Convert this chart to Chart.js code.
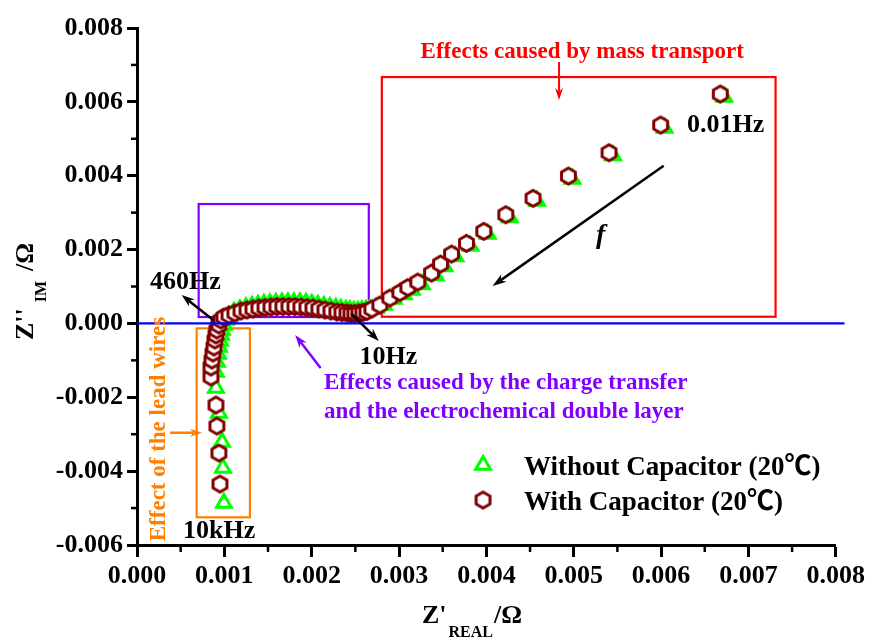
<!DOCTYPE html>
<html>
<head>
<meta charset="utf-8">
<script src="https://cdn.jsdelivr.net/npm/chart.js@4.4.1/dist/chart.umd.min.js"></script>
<style>
html,body{margin:0;padding:0;background:#fff;}
canvas{display:block;}
</style>
</head>
<body>
<canvas id="c" width="869" height="641"></canvas>
<script>
// ---- data (Z' real, Z'' imaginary, in Ohm) ----
const seriesNames = ['Without Capacitor (20\u2103)', 'With Capacitor (20\u2103)'];

const withoutCapX = [0.000995,0.000984,0.000973,0.000938,0.000904,0.000904,0.000915,0.000927,0.000938,0.000950,0.000961,0.000973,0.000995,0.001018,0.001053,
0.001110,0.001178,0.001247,0.001316,0.001384,0.001453,0.001522,0.001590,0.001659,0.001728,0.001796,0.001865,0.001934,0.002002,0.002071,0.002140,0.002208,0.002277,0.002334,0.002391,0.002437,0.002483,0.002529,0.002574,0.002620,0.002666,
0.002735,0.002826,0.002941,0.003055,0.003146,0.003261,0.003418,0.003521,0.003646,0.003818,0.004016,0.004268,0.004580,0.004985,0.005450,0.006041,0.006724];
const withoutCapY = [-0.004863,-0.003916,-0.003211,-0.002426,-0.001749,-0.001316,-0.001045,-0.000829,-0.000639,-0.000477,-0.000314,-0.000179,-0.000043,0.000092,0.000200,
0.000309,0.000376,0.000431,0.000471,0.000498,0.000525,0.000539,0.000552,0.000566,0.000566,0.000566,0.000566,0.000552,0.000525,0.000498,0.000471,0.000444,0.000417,0.000390,0.000363,0.000349,0.000336,0.000336,0.000349,0.000363,0.000390,
0.000417,0.000498,0.000661,0.000783,0.000904,0.001053,0.001297,0.001541,0.001812,0.002096,0.002421,0.002868,0.003314,0.003910,0.004546,0.005291,0.006131];

const withCapX = [0.000950,0.000938,0.000915,0.000904,0.000847,0.000847,0.000858,0.000870,0.000881,0.000892,0.000904,0.000915,0.000938,0.000961,0.000995,
0.001053,0.001121,0.001190,0.001259,0.001327,0.001396,0.001465,0.001533,0.001602,0.001670,0.001739,0.001808,0.001876,0.001945,0.002014,0.002082,0.002151,0.002220,0.002288,0.002346,0.002403,0.002449,0.002494,0.002540,0.002586,0.002632,
0.002689,0.002780,0.002895,0.003009,0.003101,0.003215,0.003372,0.003475,0.003601,0.003772,0.003970,0.004222,0.004534,0.004939,0.005404,0.005995,0.006678];
const withCapY = [-0.004349,-0.003509,-0.002778,-0.002210,-0.001451,-0.001181,-0.000991,-0.000802,-0.000639,-0.000450,-0.000314,-0.000179,-0.000043,0.000092,0.000173,
0.000227,0.000282,0.000336,0.000363,0.000390,0.000417,0.000431,0.000444,0.000458,0.000458,0.000458,0.000458,0.000444,0.000431,0.000417,0.000390,0.000363,0.000336,0.000309,0.000295,0.000282,0.000268,0.000268,0.000282,0.000295,0.000322,
0.000390,0.000498,0.000688,0.000837,0.000972,0.001121,0.001365,0.001608,0.001879,0.002169,0.002494,0.002943,0.003388,0.003991,0.004622,0.005372,0.006212];

// ---- tick labels ----
const xTicks = [0.000,0.001,0.002,0.003,0.004,0.005,0.006,0.007,0.008];
const yTicks = [-0.006,-0.004,-0.002,0.000,0.002,0.004,0.006,0.008];
const xMinorTicks = [0.0005,0.0015,0.0025,0.0035,0.0045,0.0055,0.0065,0.0075];
const yMinorTicks = [-0.005,-0.003,-0.001,0.001,0.003,0.005,0.007];

const SERIF = '"Liberation Serif", "Times New Roman", "Noto Sans CJK SC", serif';

// hexagon marker
function makeHex(){
  const c = document.createElement('canvas');
  c.width = 21; c.height = 23;
  const g = c.getContext('2d');
  const cx = 10.5, cy = 11.5, r = 8.0;
  g.beginPath();
  for(let i=0;i<6;i++){
    const a = -Math.PI/2 + i*Math.PI/3;
    const px = cx + r*Math.cos(a), py = cy + r*Math.sin(a);
    if(i===0) g.moveTo(px,py); else g.lineTo(px,py);
  }
  g.closePath();
  g.fillStyle = '#fff'; g.fill();
  g.lineWidth = 3.0; g.strokeStyle = '#800000'; g.stroke();
  return c;
}
const hexImg = makeHex();

function toPts(xs, ys){ return xs.map((x,i)=>({x:x, y:ys[i]})); }

function arrow(ctx, x1,y1,x2,y2,color,lw,hl,hw){
  const a = Math.atan2(y2-y1, x2-x1);
  const c = Math.cos(a), s = Math.sin(a);
  ctx.save();
  ctx.strokeStyle = color; ctx.fillStyle = color; ctx.lineWidth = lw; ctx.lineCap='butt';
  ctx.beginPath(); ctx.moveTo(x1,y1); ctx.lineTo(x2 - hl*0.7*c, y2 - hl*0.7*s); ctx.stroke();
  ctx.beginPath();
  ctx.moveTo(x2,y2);
  ctx.lineTo(x2 - hl*c + hw/2*s, y2 - hl*s - hw/2*c);
  ctx.lineTo(x2 - hl*0.7*c, y2 - hl*0.7*s);
  ctx.lineTo(x2 - hl*c - hw/2*s, y2 - hl*s + hw/2*c);
  ctx.closePath(); ctx.fill();
  ctx.restore();
}

const annot = {
  id: 'annot',
  beforeDatasetsDraw(chart){
    const ctx = chart.ctx, X = chart.scales.x, Y = chart.scales.y;
    const rect = (x1,y1,x2,y2,col,lw)=>{
      ctx.save(); ctx.strokeStyle = col; ctx.lineWidth = lw;
      const a = X.getPixelForValue(x1), b = Y.getPixelForValue(y1), c = X.getPixelForValue(x2), d = Y.getPixelForValue(y2);
      ctx.strokeRect(a, b, c-a, d-b); ctx.restore();
    };
    rect(0.002803, 0.006672, 0.007311, 0.000181, '#ff0000', 2.2);
    rect(0.000706, 0.003233, 0.002654, 0.000173, '#8000ff', 2.2);
    rect(0.000683, -0.000133, 0.001293, -0.005250, '#ff8000', 2.2);
  },
  afterDatasetsDraw(chart){
    const ctx = chart.ctx, X = chart.scales.x, Y = chart.scales.y;
    const px = v => X.getPixelForValue(v), py = v => Y.getPixelForValue(v);
    const area = chart.chartArea;

    // zero line
    ctx.save();
    ctx.strokeStyle = '#0000ff'; ctx.lineWidth = 2.2;
    ctx.beginPath(); ctx.moveTo(area.left, py(0)); ctx.lineTo(px(0.0081), py(0)); ctx.stroke();
    ctx.restore();

    // minor ticks
    ctx.save();
    ctx.strokeStyle = '#000'; ctx.lineWidth = 2.5;
    xMinorTicks.forEach(v=>{ const x = px(v); ctx.beginPath(); ctx.moveTo(x, area.bottom); ctx.lineTo(x, area.bottom+7); ctx.stroke(); });
    yMinorTicks.forEach(v=>{ const y = py(v); ctx.beginPath(); ctx.moveTo(area.left, y); ctx.lineTo(area.left-6, y); ctx.stroke(); });
    ctx.restore();

    // arrows
    arrow(ctx, px(0.004832), py(0.007078), px(0.004832), py(0.006049), '#ff0000', 2, 12, 8);
    arrow(ctx, px(0.00603), py(0.00427), px(0.00407), py(0.001013), '#000', 2.5, 14, 9);
    arrow(ctx, px(0.000873), py(0.000092), px(0.000511), py(0.000769), '#000', 2.5, 13, 9);
    arrow(ctx, px(0.00246), py(0.000255), px(0.002769), py(-0.000477), '#000', 2.5, 13, 9);
    arrow(ctx, px(0.002102), py(-0.001208), px(0.001811), py(-0.000314), '#8000ff', 2.5, 13, 9);
    arrow(ctx, px(0.000378), py(-0.00296), px(0.000744), py(-0.00296), '#ff8000', 2.5, 12, 8);

    // texts
    ctx.save();
    ctx.textBaseline = 'alphabetic';
    ctx.fillStyle = '#ff0000'; ctx.font = 'bold 23px ' + SERIF; ctx.textAlign = 'center';
    ctx.fillText('Effects caused by mass transport', px(0.005097), py(0.007187));
    ctx.textAlign = 'left';
    ctx.fillStyle = '#000'; ctx.font = 'bold 26px ' + SERIF;
    ctx.fillText('0.01Hz', px(0.006296), py(0.005191));
    ctx.fillText('460Hz', px(0.000149), py(0.000923));
    ctx.fillText('10Hz', px(0.002548), py(-0.001099));
    ctx.fillText('10kHz', px(0.000526), py(-0.005811));
    ctx.font = 'italic bold 28px ' + SERIF; ctx.textAlign = 'center';
    ctx.fillText('f', px(0.005309), py(0.002177));
    ctx.textAlign = 'left';
    ctx.fillStyle = '#8000ff'; ctx.font = 'bold 23px ' + SERIF;
    ctx.fillText('Effects caused by the charge transfer', px(0.00214), py(-0.001784));
    ctx.fillText('and the electrochemical double layer', px(0.00214), py(-0.002548));
    // rotated orange label
    ctx.save();
    ctx.translate(165, (py(-0.00592) + py(0.000200))/2);
    ctx.rotate(-Math.PI/2);
    ctx.fillStyle = '#ff8000'; ctx.font = 'bold 23px ' + SERIF; ctx.textAlign = 'center';
    ctx.fillText('Effect of the lead wires', 0, 0);
    ctx.restore();

    // legend
    const lx = px(0.003962), tx = px(0.00443);
    ctx.save();
    ctx.strokeStyle = '#00ff00'; ctx.fillStyle = '#fff'; ctx.lineWidth = 3;
    Chart.helpers.drawPoint(ctx, {pointStyle:'triangle', radius:8.5, borderWidth:3}, lx, py(-0.003834));
    ctx.restore();
    ctx.drawImage(hexImg, lx - hexImg.width/2, py(-0.004782) - hexImg.height/2);
    ctx.fillStyle = '#000'; ctx.font = 'bold 27px ' + SERIF; ctx.textAlign = 'left';
    ctx.fillText(seriesNames[0], tx, py(-0.004104));
    ctx.fillText(seriesNames[1], tx, py(-0.005053));

    // axis titles
    const big = 'bold 26px ' + SERIF, small = 'bold 16px ' + SERIF;
    ctx.font = big; let x0 = 422;
    ctx.fillText("Z'", x0, 623); x0 += ctx.measureText("Z'").width + 2;
    ctx.font = small; ctx.fillText('REAL', x0, 637); x0 += ctx.measureText('REAL').width + 1;
    ctx.font = big; ctx.fillText('/\u03A9', x0, 623);

    ctx.save();
    ctx.translate(33, 340); ctx.rotate(-Math.PI/2);
    ctx.textAlign = 'left';
    ctx.font = big; let s0 = 0;
    ctx.fillText("Z''", s0, 0); s0 += ctx.measureText("Z''").width + 6;
    ctx.font = small; ctx.fillText('IM', s0, 13); s0 += ctx.measureText('IM').width + 10;
    ctx.font = big; ctx.fillText('/\u03A9', s0, 0);
    ctx.restore();
    ctx.restore();
  }
};

const tickFont = {family: SERIF, weight:'bold', size:26};

new Chart(document.getElementById('c'), {
  type: 'scatter',
  data: {
    datasets: [
      {
        label: seriesNames[0],
        data: toPts(withoutCapX, withoutCapY),
        pointStyle: 'triangle', pointRadius: 8.5, pointBorderWidth: 3,
        pointBorderColor: '#00ff00', pointBackgroundColor: '#ffffff',
        showLine: false, order: 2
      },
      {
        label: seriesNames[1],
        data: toPts(withCapX, withCapY),
        pointStyle: hexImg, pointRadius: 8,
        showLine: false, order: 1
      }
    ]
  },
  options: {
    responsive: false, animation: false,
    layout: {padding: {top: 28, right: 33, left: 0, bottom: 0}},
    plugins: {legend: {display:false}, tooltip: {enabled:false}},
    scales: {
      x: {
        type: 'linear', min: 0, max: 0.008, position: 'bottom',
        border: {color:'#000', width:3},
        grid: {drawOnChartArea:false, drawTicks:true, tickLength:12, tickWidth:3, tickColor:'#000'},
        ticks: {font: tickFont, color:'#000', padding: 4, maxRotation:0, autoSkip:false,
                callback: v => Number(v).toFixed(3)},
        afterBuildTicks: s => { s.ticks = xTicks.map(v=>({value:v})); },
        afterFit: s => { s.height = 96; }
      },
      y: {
        type: 'linear', min: -0.006, max: 0.008, position: 'left',
        border: {color:'#000', width:3},
        grid: {drawOnChartArea:false, drawTicks:true, tickLength:10, tickWidth:3, tickColor:'#000'},
        ticks: {font: tickFont, color:'#000', padding: 4, autoSkip:false,
                callback: v => Number(v).toFixed(3)},
        afterBuildTicks: s => { s.ticks = yTicks.map(v=>({value:v})); },
        afterFit: s => { s.width = 137; }
      }
    }
  },
  plugins: [annot]
});
</script>
</body>
</html>
